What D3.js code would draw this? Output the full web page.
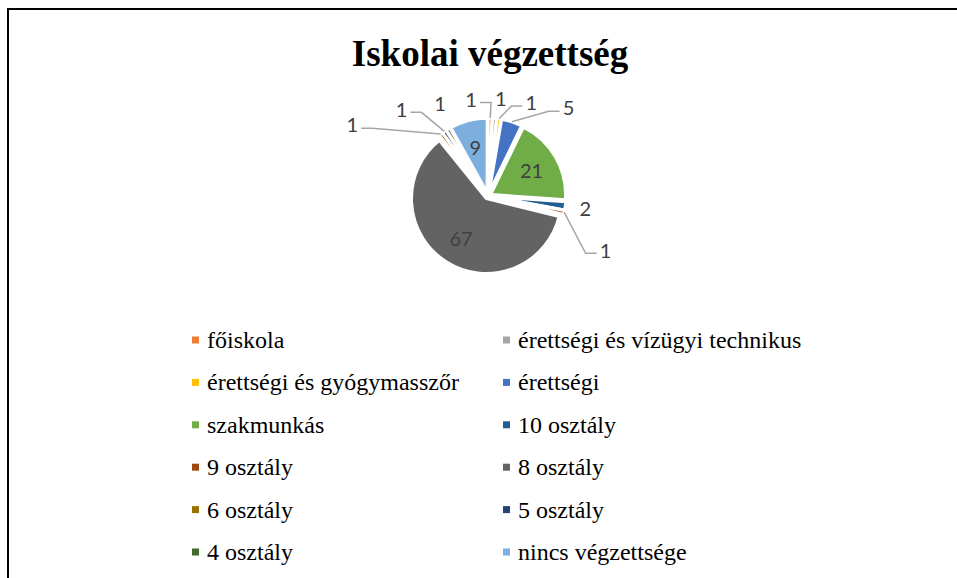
<!DOCTYPE html>
<html>
<head>
<meta charset="utf-8">
<script src="https://cdn.jsdelivr.net/npm/d3@7"></script>
<style>
  body { margin: 0; background: #fff; }
  svg { display: block; }
</style>
</head>
<body>
<script>
var width = 957;
var height = 578;

// data
var categories = ["főiskola", "érettségi és vízügyi technikus", "érettségi és gyógymasszőr",
  "érettségi", "szakmunkás", "10 osztály", "9 osztály", "8 osztály",
  "6 osztály", "5 osztály", "4 osztály", "nincs végzettsége"];
var values = [1, 1, 1, 5, 21, 2, 1, 67, 1, 1, 1, 9];
var colors = ["#ED7D31", "#A5A5A5", "#FFC000", "#4472C4", "#70AD47", "#255E91",
  "#9E480E", "#636363", "#997300", "#264478", "#43682B", "#7CAFDD"];

var cx = 488, cy = 196, radius = 75;
var explode = 3;
var labelRadius = 98;
var minGap = 17.5 * Math.PI / 180;

var svg = d3.select("body").append("svg")
    .attr("width", width)
    .attr("height", height);

// frame
svg.append("path")
    .attr("d", "M8,578 L8,9 L957,9")
    .attr("fill", "none")
    .attr("stroke", "#000")
    .attr("stroke-width", 2);

svg.append("text")
    .attr("x", 490)
    .attr("y", 66)
    .attr("text-anchor", "middle")
    .style("font-family", "'Liberation Serif', 'Times New Roman', serif")
    .style("font-weight", "bold")
    .style("font-size", "37px")
    .text("Iskolai végzettség");

var rows = categories.map(function(c, i) {
  return { name: c, value: values[i], color: colors[i] };
});

var pie = d3.pie().sort(null).value(function(d) { return d.value; });
var arcs = pie(rows);
var arc = d3.arc().innerRadius(0).outerRadius(radius);
var innerLabelArc = d3.arc().innerRadius(radius * 0.67).outerRadius(radius * 0.67);

function mid(d) { return (d.startAngle + d.endAngle) / 2; }

var g = svg.append("g").attr("transform", "translate(" + cx + "," + cy + ")");

g.selectAll("path.slice")
  .data(arcs)
  .enter().append("path")
    .attr("class", "slice")
    .attr("d", arc)
    .attr("fill", function(d) { return d.data.color; })
    .attr("stroke", "#fff")
    .attr("stroke-width", 3.2)
    .attr("stroke-linejoin", "round")
    .attr("transform", function(d) {
      var a = mid(d);
      return "translate(" + (Math.sin(a) * explode) + "," + (-Math.cos(a) * explode) + ")";
    });

var labelFont = "'Lato', 'Open Sans', sans-serif";
var inside = arcs.filter(function(d) { return d.endAngle - d.startAngle > 20 * Math.PI / 180; });
var outside = arcs.filter(function(d) { return d.endAngle - d.startAngle <= 20 * Math.PI / 180; });

g.selectAll("text.in")
  .data(inside)
  .enter().append("text")
    .attr("class", "in")
    .attr("transform", function(d) { return "translate(" + innerLabelArc.centroid(d) + ")"; })
    .attr("text-anchor", "middle")
    .attr("dy", "0.36em")
    .style("font-family", labelFont)
    .style("font-size", "20px")
    .style("fill", "#404040")
    .text(function(d) { return d.data.value; });

// outside labels: spread along the rim so they don't collide
var labels = outside.map(function(d) {
  var a = mid(d);
  if (a > Math.PI) a -= 2 * Math.PI;
  return { d: d, a0: a, a: a };
}).sort(function(p, q) { return p.a0 - q.a0; });

var clusters = labels.map(function(l) { return [l]; });
function place(c) {
  var m = d3.mean(c, function(l) { return l.a0; });
  var deg = m * 180 / Math.PI;
  if (deg > 60 && deg < 120) {
    // on the right side, labels stack downwards from the first one
    c.forEach(function(l, i) { l.a = c[0].a0 + i * minGap; });
  } else {
    c.forEach(function(l, i) { l.a = m + (i - (c.length - 1) / 2) * minGap; });
  }
}
clusters.forEach(place);
var merged = true;
while (merged) {
  merged = false;
  for (var i = 0; i < clusters.length - 1; i++) {
    var a = clusters[i], b = clusters[i + 1];
    if (b[0].a - a[a.length - 1].a < minGap) {
      clusters.splice(i, 2, a.concat(b));
      place(clusters[i]);
      merged = true;
      break;
    }
  }
}

labels.forEach(function(l) {
  var deg = Math.abs(l.a) * 180 / Math.PI;
  var shift = Math.abs(l.a - l.a0) * 180 / Math.PI;
  // labels spread around the top bend outward; pushed side labels sit further out
  var lr = labelRadius + (deg < 80 ? 0.02 * Math.pow(Math.max(0, deg - 10), 2) : 2.5 * shift);
  l.x = Math.sin(l.a) * lr;
  l.y = -Math.cos(l.a) * lr;
  l.ax = Math.sin(l.a0) * (radius + explode);
  l.ay = -Math.cos(l.a0) * (radius + explode);
  var nx = Math.sin(l.a0) * labelRadius, ny = -Math.cos(l.a0) * labelRadius;
  l.shifted = Math.hypot(l.x - nx, l.y - ny) > 14;
});

g.selectAll("path.leader")
  .data(labels.filter(function(l) { return l.shifted; }))
  .enter().append("path")
    .attr("class", "leader")
    .attr("fill", "none")
    .attr("stroke", "#A6A6A6")
    .attr("stroke-width", 1.5)
    .attr("d", function(l) {
      var side = l.ax < l.x ? -1 : 1;
      var ex = l.x + side * 9, ey = l.y + 3;
      var elx = ex + side * 11;
      return "M" + l.ax + "," + l.ay + "L" + elx + "," + ey + "L" + ex + "," + ey;
    });

g.selectAll("text.out")
  .data(labels)
  .enter().append("text")
    .attr("class", "out")
    .attr("x", function(l) { return l.x; })
    .attr("y", function(l) { return l.y; })
    .attr("text-anchor", "middle")
    .attr("dy", "0.36em")
    .style("font-family", labelFont)
    .style("font-size", "20px")
    .style("fill", "#404040")
    .text(function(l) { return l.d.data.value; });

// legend, two columns
var colX = [192, 503];
var rowY0 = 340, rowStep = 42.4;
var legend = svg.selectAll("g.legend")
  .data(rows)
  .enter().append("g")
    .attr("class", "legend")
    .attr("transform", function(d, i) {
      return "translate(" + colX[i % 2] + "," + (rowY0 + Math.floor(i / 2) * rowStep) + ")";
    });

legend.append("rect")
    .attr("x", 0).attr("y", -3.5)
    .attr("width", 7).attr("height", 7)
    .attr("fill", function(d) { return d.color; });

legend.append("text")
    .attr("x", 15)
    .attr("dy", "0.33em")
    .style("font-family", "'Liberation Serif', 'Times New Roman', serif")
    .style("font-size", "24px")
    .text(function(d) { return d.name; });
</script>
</body>
</html>
